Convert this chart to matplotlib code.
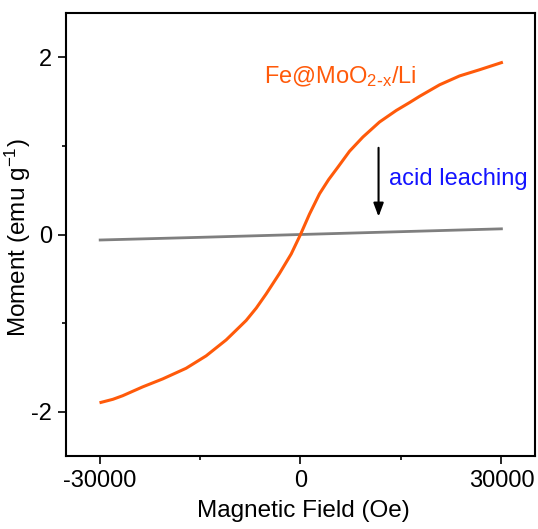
import matplotlib
matplotlib.use("Agg")
import matplotlib.pyplot as plt
from matplotlib.ticker import MultipleLocator

plt.rcParams['font.family'] = ['Liberation Sans', 'DejaVu Sans']
plt.rcParams['mathtext.default'] = 'regular'
plt.rcParams['axes.unicode_minus'] = False

# Fe@MoO2-x/Li magnetization loop
field_fe = [-29780, -28000, -26550, -23560, -20570, -17080, -14090, -11100,
            -9600, -8110, -6600, -5120, -3140, -1390, 0, 1340, 2840, 4200,
            5580, 7320, 9310, 11800, 14290, 16290, 17780, 20770, 23750,
            26740, 29990]
moment_fe = [-1.895, -1.86, -1.82, -1.72, -1.63, -1.51, -1.37, -1.19,
             -1.08, -0.97, -0.83, -0.67, -0.44, -0.22, 0.0, 0.23, 0.46, 0.62,
             0.76, 0.94, 1.10, 1.27, 1.40, 1.49, 1.56, 1.69, 1.79,
             1.86, 1.94]

# after acid leaching
field_acid = [-29900, -15000, 0, 15000, 29990]
moment_acid = [-0.062, -0.032, 0.0, 0.032, 0.064]

fig = plt.figure(figsize=(5.38, 5.29), dpi=100)
ax = fig.add_axes([0.1227, 0.138, 0.8717, 0.8374])

ax.plot(field_acid, moment_acid, color='#7f7f7f', lw=2.0)
ax.plot(field_fe, moment_fe, color='#ff5a0a', lw=2.2)

ax.annotate('', xy=(11650, 0.17), xytext=(11650, 1.01),
            arrowprops=dict(arrowstyle='-|>,head_width=0.3,head_length=0.8',
                            color='black', lw=1.5))
ax.text(13150, 0.63, 'acid leaching', color='#1414ff', fontsize=17,
        va='center', ha='left')
ax.text(-5500, 1.71, r'Fe@MoO$_{2\text{-}x}$/Li', color='#ff5a0a',
        fontsize=17, va='baseline', ha='left')

ax.set_xlim(-35000, 35000)
ax.set_ylim(-2.5, 2.5)
ax.xaxis.set_major_locator(MultipleLocator(30000))
ax.xaxis.set_minor_locator(MultipleLocator(15000))
ax.yaxis.set_major_locator(MultipleLocator(2))
ax.yaxis.set_minor_locator(MultipleLocator(1))
ax.tick_params(which='major', length=6, width=1.2, labelsize=17, pad=4)
ax.tick_params(which='minor', length=3, width=1.2)
for s in ax.spines.values():
    s.set_linewidth(1.5)

ax.set_xlabel('Magnetic Field (Oe)', fontsize=17.5)
ax.set_ylabel(r'Moment (emu g$^{-1}$)', fontsize=17.5)
ax.xaxis.set_label_coords(0.507, -0.099)
ax.yaxis.set_label_coords(-0.070, 0.492)

fig.savefig('out.png', dpi=100)
